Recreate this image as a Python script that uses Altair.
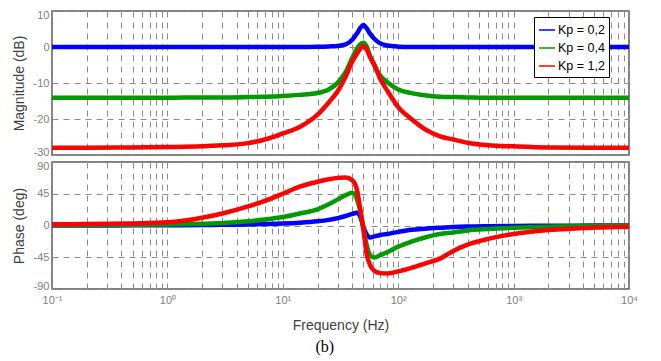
import altair as alt
import pandas as pd

# ---------------- data ----------------
freq = [0.1, 0.2, 0.5, 1, 2, 3, 5, 7, 10, 14, 20, 25, 30, 35, 40, 44, 47, 50,
        53, 57, 62, 70, 80, 100, 130, 170, 230, 300, 400, 600, 1000, 2000, 5000, 10000]

series_names = ["Kp = 0,2", "Kp = 0,4", "Kp = 1,2"]
colors = ["#0000ff", "#009900", "#ff0000"]

mag_blue = [0, 0, 0, 0, 0, 0, 0, 0, 0, 0, 0.05, 0.15, 0.3, 0.7, 2.0, 3.8, 5.3, 6.1,
            5.3, 3.7, 2.3, 1.0, 0.4, 0.1, 0, 0, 0, 0, 0, 0, 0, 0, 0, 0]
mag_green = [-14.1, -14.1, -14.1, -14.1, -14.0, -14.0, -13.9, -13.8, -13.6, -13.3, -12.8,
             -11.8, -9.9, -7.0, -3.0, -0.4, 0.8, 1.2, 0.3, -2.5, -5.0, -8.0, -9.7,
             -11.8, -12.8, -13.4, -13.8, -13.9, -14.0, -14.1, -14.1, -14.1, -14.1, -14.1]
mag_red = [-28.0, -28.0, -27.9, -27.8, -27.6, -27.3, -26.7, -25.7, -24.0, -22.2, -18.8,
           -15.4, -12.2, -8.3, -4.0, -1.8, -0.4, 0.3, -0.6, -2.8, -4.9, -8.9, -12.0,
           -16.7, -20.0, -22.8, -24.8, -25.7, -26.6, -27.3, -27.6, -27.9, -28.0, -28.0]

ph_blue = [0, 0, 0.2, 0.3, 0.6, 0.9, 1.4, 2.0, 2.8, 4.0, 6.0, 8.0, 10.5, 13.5, 16.5, 18.0,
           12.0, -2.0, -12.0, -17.0, -15.5, -13.5, -12.0, -9.0, -6.0, -4.5, -3.2, -2.2,
           -1.5, -1.0, -0.6, -0.3, -0.1, 0]
ph_green = [0.3, 0.5, 1.0, 1.5, 2.5, 3.5, 6.0, 8.5, 12.0, 17.0, 23.0, 30.0, 37.0, 43.0,
            46.5, 37.0, 20.0, -4.0, -26.0, -42.0, -45.5, -42.0, -38.0, -30.0, -23.0,
            -17.0, -12.0, -10.0, -7.0, -5.0, -3.2, -1.6, -0.6, -0.3]
ph_red = [1.7, 2.0, 3.0, 4.5, 11.0, 17.0, 27.0, 35.0, 45.0, 55.0, 62.0, 65.5, 67.5, 68.0,
          64.0, 50.0, 22.0, -6.0, -38.0, -56.0, -64.0, -67.5, -68.0, -65.0, -60.0, -54.0,
          -47.0, -36.0, -27.0, -19.0, -12.0, -6.5, -3.0, -1.7]

mag_ticks = [-30, -20, -10, 0, 10]
phase_ticks = [-90, -45, 0, 45, 90]
x_grid = [m * 10.0 ** e for e in range(-1, 4) for m in range(1, 10)] + [10000.0]

rows = []
for name, mags, phs in zip(series_names, [mag_blue, mag_green, mag_red],
                           [ph_blue, ph_green, ph_red]):
    for f, m, p in zip(freq, mags, phs):
        rows.append({"f": f, "series": name, "mag": m, "phase": p})
df = pd.DataFrame(rows)

# ---------------- chart ----------------
xscale = alt.Scale(type="log", domain=[0.1, 10000], nice=False)
label_expr = ("datum.value == 0.1 ? '10⁻¹' : datum.value == 1 ? '10⁰' : "
              "datum.value == 10 ? '10¹' : datum.value == 100 ? '10²' : "
              "datum.value == 1000 ? '10³' : datum.value == 10000 ? '10⁴' : ''")

color_scale = alt.Scale(domain=series_names, range=colors)

base = alt.Chart(df).mark_line(strokeWidth=4.5, interpolate="monotone", clip=True)

y_axis_common = dict(labelExpr="'' + datum.value", minExtent=24, maxExtent=24,
                     titlePadding=2, labelPadding=3, labelFlush=True, labelFlushOffset=2)

top = base.encode(
    x=alt.X("f:Q", scale=xscale,
            axis=alt.Axis(values=x_grid, labels=False, title=None, grid=True,
                          minExtent=0, maxExtent=0, labelPadding=0)),
    y=alt.Y("mag:Q", scale=alt.Scale(domain=[-30, 10], nice=False, zero=False),
            axis=alt.Axis(values=mag_ticks, title="Magnitude (dB)", **y_axis_common)),
    color=alt.Color("series:N", scale=color_scale,
                    legend=alt.Legend(title=None, orient="none", legendX=482, legendY=6,
                                      strokeColor="black", fillColor="white", padding=4,
                                      symbolType="stroke", symbolStrokeWidth=1.5,
                                      symbolSize=256, labelFontSize=12.5, labelColor="black",
                                      labelFont="Liberation Sans", rowPadding=2,
                                      labelOffset=2, cornerRadius=0)),
).properties(width=577, height=144)

bottom = base.encode(
    x=alt.X("f:Q", scale=xscale,
            axis=alt.Axis(values=x_grid, labelExpr=label_expr, title="Frequency (Hz)",
                          grid=True, labelPadding=5, titlePadding=13, labelFlush=False)),
    y=alt.Y("phase:Q", scale=alt.Scale(domain=[-90, 90], nice=False, zero=False),
            axis=alt.Axis(values=phase_ticks, title="Phase (deg)", **y_axis_common)),
    color=alt.Color("series:N", scale=color_scale, legend=None),
).properties(width=577, height=127)

chart = alt.vconcat(top, bottom, spacing=7, bounds="flush").resolve_legend(
    color="independent"
).properties(
    title=alt.TitleParams(text="(b)", orient="bottom", font="Liberation Serif", fontSize=16,
                          fontWeight="normal", color="black", offset=6, anchor="middle"),
    padding={"left": 3, "top": 0, "right": 5, "bottom": 2},
).configure_axis(
    labelFont="Liberation Sans", titleFont="Liberation Sans", labelColor="#808080",
    titleColor="#404040", titleFontWeight="normal", labelFontSize=11, titleFontSize=14,
    gridDash=[6, 5], gridColor="#8c8c8c", gridWidth=1, domain=False, ticks=False,
).configure_view(stroke="#5a5a5a", strokeWidth=1.5)

chart.save("out.html", embed_options={"renderer": "svg", "actions": False})
